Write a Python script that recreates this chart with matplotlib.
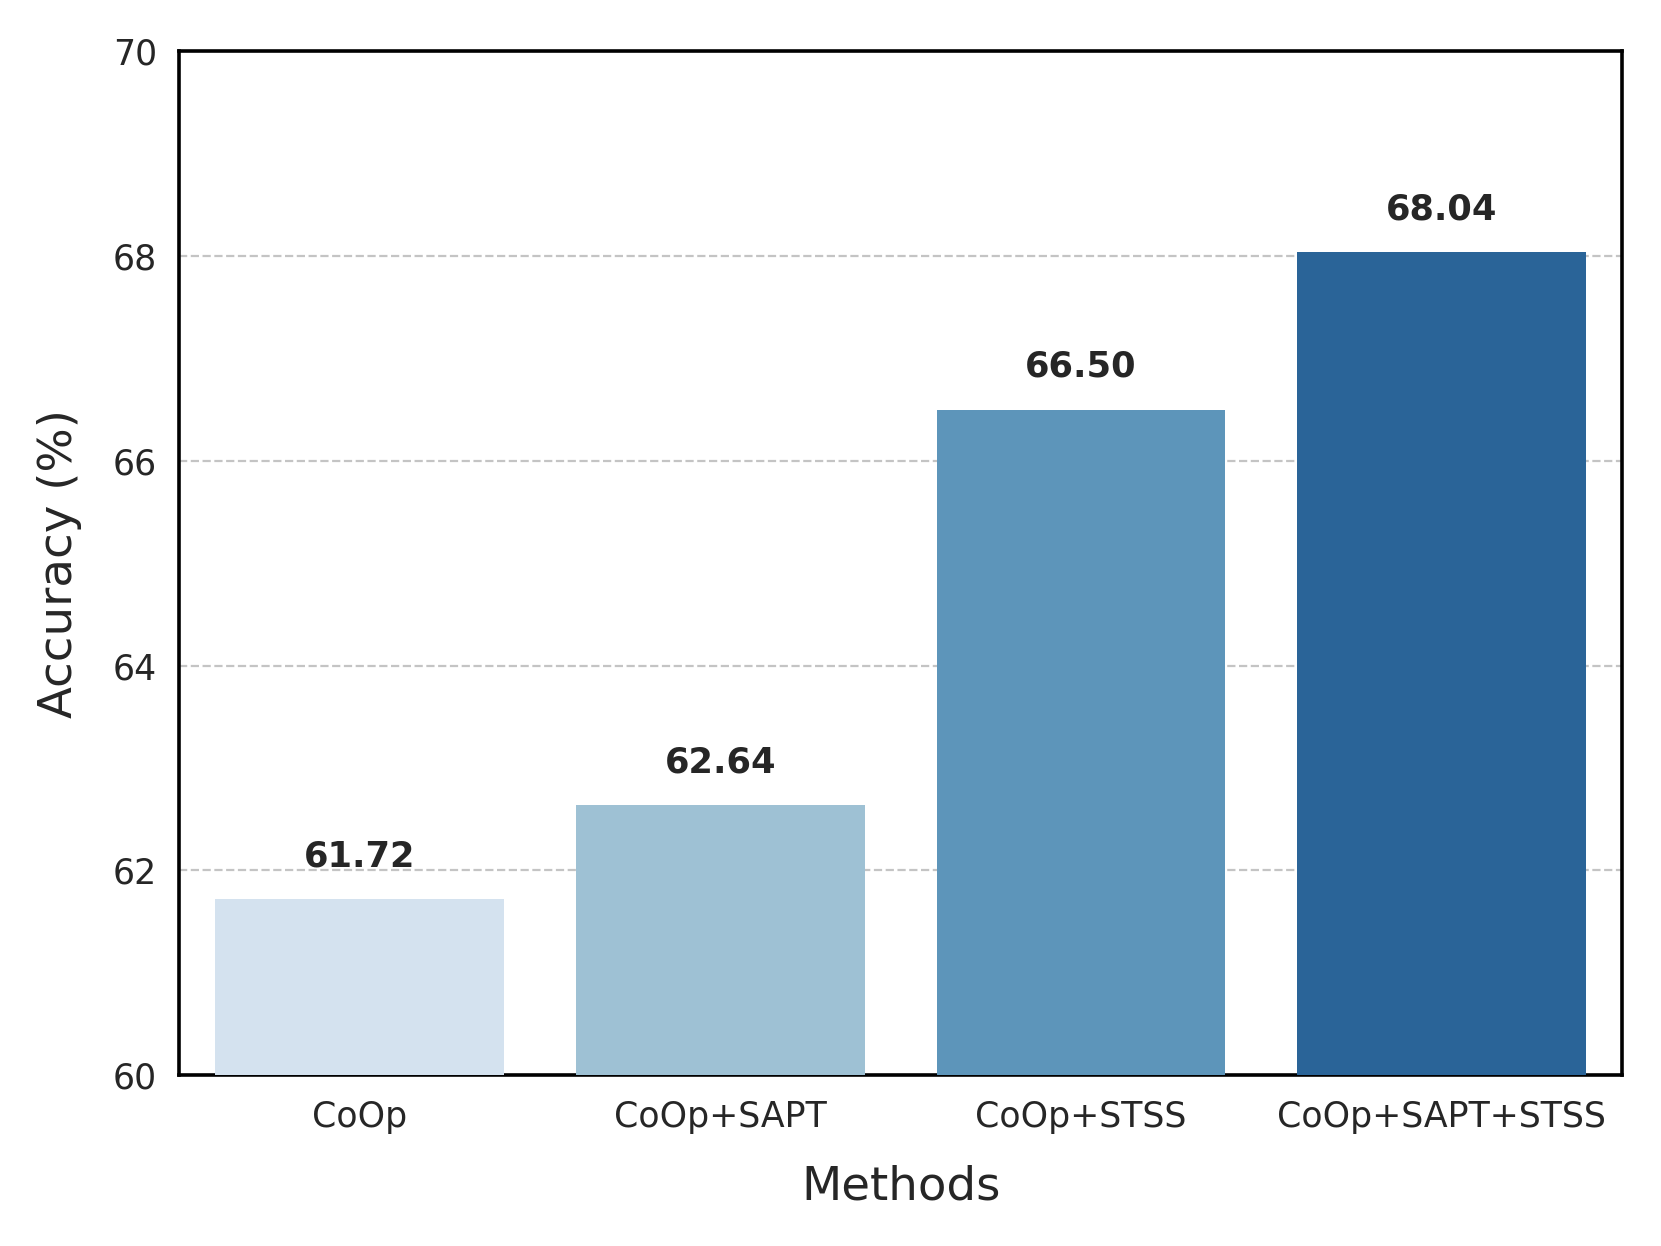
import matplotlib
matplotlib.use("Agg")
import matplotlib.pyplot as plt

methods = ["CoOp", "CoOp+SAPT", "CoOp+STSS", "CoOp+SAPT+STSS"]
accuracy = [61.72, 62.64, 66.50, 68.04]
colors = ["#d4e2ef", "#9ec1d4", "#5d95ba", "#2a6498"]
yticks = [60, 62, 64, 66, 68, 70]

plt.rcParams['font.family'] = ['DejaVu Sans']
fig = plt.figure(figsize=(8.305, 6.23), dpi=200)
ax = fig.add_axes([0.108, 0.137, 0.8685, 0.822])

x = list(range(len(methods)))
ax.bar(x, [a - 60 for a in accuracy], bottom=60, width=0.8, color=colors, zorder=3)
for xi, v in zip(x, accuracy):
    ax.text(xi, v + 0.25, f"{v:.2f}", ha="center", va="bottom", fontsize=12.7,
            fontweight="bold", color="#262626", zorder=4)

ax.set_xlim(-0.5, 3.5)
ax.set_ylim(60, 70)
ax.set_yticks(yticks)
ax.set_xticks(x)
ax.set_xticklabels(methods)
ax.tick_params(axis="both", length=0, labelsize=12.5, labelcolor="#262626", pad=8)
ax.tick_params(axis="x", pad=9)
ax.set_xlabel("Methods", fontsize=16.8, color="#262626", labelpad=11)
ax.set_ylabel("Accuracy (%)", fontsize=16.8, color="#262626", labelpad=11)
ax.yaxis.grid(True, linestyle="--", color="#c4c4c4", linewidth=0.8, zorder=0)
ax.xaxis.grid(False)
for s in ax.spines.values():
    s.set_color("black")
    s.set_linewidth(1.3)

fig.savefig("out.png", dpi=200)
